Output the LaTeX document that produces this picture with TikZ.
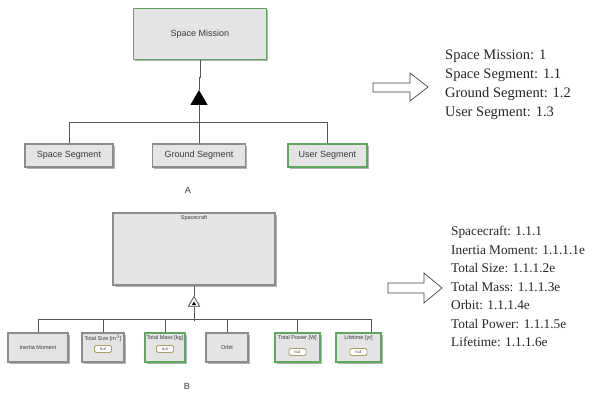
\documentclass[tikz,border=0pt]{standalone}
\usepackage{fontspec}
\setmainfont{Liberation Serif}
\setsansfont{Liberation Sans}
\usepackage{xcolor}
\usetikzlibrary{shapes.geometric,shadows}

\definecolor{boxfill}{HTML}{E4E4E4}
\definecolor{boxgray}{HTML}{8C8C8C}
\definecolor{boxgreen}{HTML}{5DA85D}
\definecolor{nullline}{HTML}{A89F62}
\definecolor{labeltext}{HTML}{3A3A3A}
\definecolor{wire}{HTML}{555555}

\tikzset{
	blockgray/.style={draw=boxgray, fill=boxfill, line width=1.3pt, inner sep=0pt,
		drop shadow={shadow xshift=1.8pt, shadow yshift=-1.8pt, fill=gray!60, opacity=1},
		font=\sffamily\fontsize{9}{10}\selectfont, text=labeltext},
	blockgreen/.style={blockgray, draw=boxgreen},
	tinytext/.style={font=\sffamily\fontsize{5.5}{6}\selectfont, text=labeltext, inner sep=0pt},
	nullbox/.style={draw=nullline, fill=white, rounded corners=1.5pt, line width=0.8pt,
		minimum width=17pt, minimum height=7pt, inner sep=0pt,
		font=\sffamily\fontsize{3.5}{4}\selectfont, text=labeltext},
	codetext/.style={anchor=north west, inner sep=0pt, align=left, text=black!85},
	blockarrow/.style={draw=black!75, line width=0.7pt, fill=white},
	wireline/.style={draw=wire, line width=0.9pt}
}

\begin{document}
\begin{tikzpicture}[x=1pt, y=-1pt]
	% Parameters
	\def\rowA{155.5}
	\def\hA{23}
	\def\rowB{347.5}
	\def\hB{29}
	
	\useasboundingbox (0,0) rectangle (606,398);
	
	%blocks A
	\node[blockgreen, minimum width=133pt, minimum height=51pt] (mission) at (200,34) {Space Mission};
	\node[blockgray, minimum width=88pt, minimum height=\hA pt] (spaceseg) at (69,\rowA) {Space Segment};
	\node[blockgray, minimum width=93pt, minimum height=\hA pt] (groundseg) at (199,\rowA) {Ground Segment};
	\node[blockgreen, minimum width=79pt, minimum height=\hA pt] (userseg) at (327.5,\rowA) {User Segment};
	\node[regular polygon, regular polygon sides=3, fill=black, inner sep=0pt, minimum size=20pt] (triA) at (199,100) {};
	\node[font=\sffamily\fontsize{9}{10}\selectfont, text=labeltext] (capA) at (188,190) {A};
	
	%nets A
	\draw[wireline] (mission.south) -- ++(0,17) -| (triA.north);
	\draw[wireline] (triA.south) -- (groundseg.north);
	\draw[wireline] (spaceseg.north) -- ++(0,-21) -| (userseg.north);
	
	%blocks B
	\node[blockgray, minimum width=162pt, minimum height=72pt] (craft) at (194,249) {};
	\node[tinytext, below=3pt] (craftlbl) at (craft.north) {Spacecraft};
	\node[regular polygon, regular polygon sides=3, draw=black!70, fill=white, line width=0.8pt, inner sep=0pt, minimum size=13pt] (triB) at (194,303) {};
	\node[regular polygon, regular polygon sides=3, fill=black, inner sep=0pt, minimum size=5pt] (triBin) at (194,304) {};
	
	\node[blockgray, minimum width=60pt, minimum height=\hB pt] (inertia) at (38,\rowB) {};
	\node[blockgray, minimum width=42pt, minimum height=\hB pt] (size) at (103,\rowB) {};
	\node[blockgreen, minimum width=40pt, minimum height=\hB pt] (mass) at (165,\rowB) {};
	\node[blockgray, minimum width=42pt, minimum height=\hB pt] (orbit) at (227,\rowB) {};
	\node[blockgreen, minimum width=45pt, minimum height=\hB pt] (power) at (297.5,\rowB) {};
	\node[blockgreen, minimum width=45pt, minimum height=\hB pt] (lifetime) at (358.5,\rowB) {};
	
	\node[tinytext] (inertialbl) at (inertia.center) {Inertia Moment};
	\node[tinytext, below=3pt] (sizelbl) at (size.north) {Total Size [m$^3$]};
	\node[nullbox] (sizenull) at (103,349) {Null};
	\node[tinytext, below=3pt] (masslbl) at (mass.north) {Total Mass [kg]};
	\node[nullbox] (massnull) at (165,349) {Null};
	\node[tinytext] (orbitlbl) at (orbit.center) {Orbit};
	\node[tinytext, below=3pt] (powerlbl) at (power.north) {Total Power [W]};
	\node[nullbox] (powernull) at (297.5,352) {Null};
	\node[tinytext, below=3pt] (lifelbl) at (lifetime.north) {Lifetime [yr]};
	\node[nullbox] (lifenull) at (358.5,352) {Null};
	\node[font=\sffamily\fontsize{9}{10}\selectfont, text=labeltext] (capB) at (187,386) {B};
	
	%nets B
	\draw[wireline] (craft.south) -- (triB.north);
	\draw[wireline] (triB.south) -- ++(0,14) coordinate (busB);
	\draw[wireline] (inertia.north) -- ++(0,-13) -| ([xshift=12.5pt]lifetime.north);
	\foreach \n in {size,mass,orbit,power} {
		\draw[wireline] (\n.north) -- ++(0,-13);
	}
	
	%block arrows
	\draw[blockarrow] (373,83) -- (410,83) -- (410,73) -- (428,87) -- (410,101) -- (410,92) -- (373,92) -- cycle;
	\draw[blockarrow] (388,283) -- (424,283) -- (424,273) -- (442,288) -- (424,303) -- (424,293) -- (388,293) -- cycle;
	
	%numbering
	\node[codetext, font=\fontsize{14.5}{18.8}\selectfont] (codesA) at (445,50) {Space Mission: 1\\Space Segment: 1.1\\Ground Segment: 1.2\\User Segment: 1.3};
	\node[codetext, font=\fontsize{13.3}{18.5}\selectfont] (codesB) at (451,226) {Spacecraft: 1.1.1\\Inertia Moment: 1.1.1.1e\\Total Size: 1.1.1.2e\\Total Mass: 1.1.1.3e\\Orbit: 1.1.1.4e\\Total Power: 1.1.1.5e\\Lifetime: 1.1.1.6e};
\end{tikzpicture}
\end{document}
